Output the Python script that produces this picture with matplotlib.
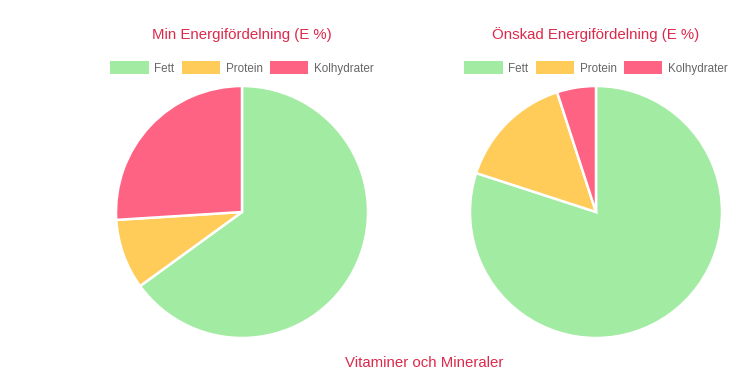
import matplotlib
matplotlib.use("Agg")
import matplotlib.pyplot as plt
from matplotlib.patches import Patch

# data
labels = ["Fett", "Protein", "Kolhydrater"]
min_values = [65, 9, 26]
onskad_values = [80, 15, 5]
titles = ["Min Energifördelning (E %)", "Önskad Energifördelning (E %)"]
bottom_title = "Vitaminer och Mineraler"

colors = ["#a2eba2", "#ffcb59", "#ff6384"]
title_color = "#dc2a4c"
text_color = "#666666"

plt.rcParams["font.family"] = ["Liberation Sans", "DejaVu Sans"]

W, H = 750, 369
fig = plt.figure(figsize=(W / 100, H / 100), dpi=100)

def px_axes(cx, cy, r):
    # axes in pixel coords (top-left origin) -> figure fraction
    return fig.add_axes([(cx - r) / W, (H - cy - r) / H, 2 * r / W, 2 * r / H])

centers = [(242, 212), (596, 212)]
radius = 126
for (cx, cy), vals, title in zip(centers, [min_values, onskad_values], titles):
    ax = px_axes(cx, cy, radius)
    ax.pie(vals, colors=colors, startangle=90, counterclock=False,
           wedgeprops=dict(edgecolor="white", linewidth=1.8))
    ax.set_xlim(-1, 1)
    ax.set_ylim(-1, 1)
    ax.set_aspect("equal")
    ax.axis("off")
    fig.text(cx / W, 1 - 35 / H, title, ha="center", va="center",
             fontsize=10.8, color=title_color)
    handles = [Patch(facecolor=c, edgecolor="none") for c in colors]
    fig.legend(handles, labels, loc="center", bbox_to_anchor=(cx / W, 1 - 68 / H),
               ncol=3, frameon=False, fontsize=8.4, labelcolor=text_color,
               handlelength=3.3, handleheight=1.3, handletextpad=0.5,
               columnspacing=0.6, borderpad=0)

fig.text(424 / W, 1 - 363 / H, bottom_title, ha="center", va="center",
         fontsize=10.8, color=title_color)

fig.savefig("out.png", dpi=100, facecolor="white")
